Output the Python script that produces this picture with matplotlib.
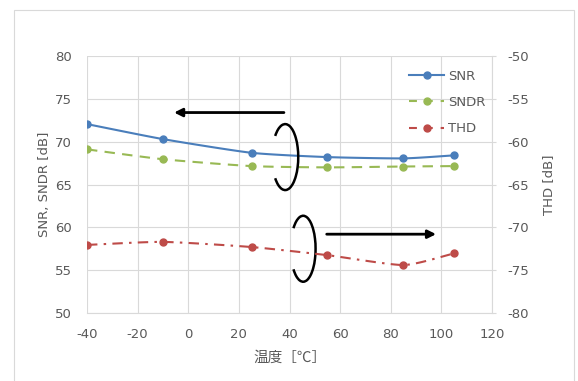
import numpy as np
import matplotlib
matplotlib.use("Agg")
import matplotlib.pyplot as plt
from matplotlib.patches import Arc, Rectangle

plt.rcParams['font.family'] = ['DejaVu Sans', 'Noto Sans CJK JP']
plt.rcParams['axes.unicode_minus'] = False

temps = [-40, -10, 25, 55, 85, 105]
snr = [72.05, 70.3, 68.7, 68.2, 68.05, 68.4]
sndr = [69.1, 67.95, 67.15, 67.0, 67.1, 67.15]
thd = [-72.05, -71.7, -72.3, -73.25, -74.4, -73.05]

x_ticks = [-40, -20, 0, 20, 40, 60, 80, 100, 120]
left_ticks = [50, 55, 60, 65, 70, 75, 80]
right_ticks = [-80, -75, -70, -65, -60, -55, -50]

C_SNR = '#4A7EBB'
C_SNDR = '#98B954'
C_THD = '#BE4B48'
GRID = '#D9D9D9'
TXT = '#595959'
FS = 9.5


def smooth(x, y, n=20):
    """Catmull-Rom curve through the data points (Excel-like smoothed line)."""
    x = np.asarray(x, float)
    y = np.asarray(y, float)
    px = np.concatenate([[2 * x[0] - x[1]], x, [2 * x[-1] - x[-2]]])
    py = np.concatenate([[2 * y[0] - y[1]], y, [2 * y[-1] - y[-2]]])
    xs, ys = [], []
    t = np.linspace(0, 1, n)
    for i in range(1, len(px) - 2):
        p0, p1, p2, p3 = [np.array([px[j], py[j]]) for j in (i - 1, i, i + 1, i + 2)]
        m1 = (p2 - p0) / 2 * 0.6
        m2 = (p3 - p1) / 2 * 0.6
        h00 = 2 * t**3 - 3 * t**2 + 1
        h10 = t**3 - 2 * t**2 + t
        h01 = -2 * t**3 + 3 * t**2
        h11 = t**3 - t**2
        pts = (np.outer(h00, p1) + np.outer(h10, m1) + np.outer(h01, p2) + np.outer(h11, m2))
        xs.extend(pts[:, 0])
        ys.extend(pts[:, 1])
    return np.array(xs), np.array(ys)


fig = plt.figure(figsize=(5.78, 3.81), dpi=100)
fig.patches.append(Rectangle((13.5 / 578, -0.1), (574 - 13.5) / 578, 1 - 10 / 381 + 0.1,
                             transform=fig.transFigure, fill=False, edgecolor='#D9D9D9',
                             linewidth=0.8))
ax = fig.add_axes([87 / 578, 1 - 313 / 381, (492 - 87) / 578, (313 - 56) / 381])
ax2 = ax.twinx()

ax.set_xlim(-40, 120)
ax.set_ylim(50, 80)
ax2.set_ylim(-80, -50)
ax.set_xticks(x_ticks)
ax.set_yticks(left_ticks)
ax2.set_yticks(right_ticks)

ax.grid(True, color=GRID, linewidth=0.8)
ax.set_axisbelow(True)
for a in (ax, ax2):
    for s in a.spines.values():
        s.set_visible(False)
ax.spines['bottom'].set_visible(True)
ax.spines['bottom'].set_color(GRID)
ax2.spines['right'].set_visible(True)
ax2.spines['right'].set_color(GRID)

ax.tick_params(axis='x', length=0, labelsize=FS, labelcolor=TXT, pad=11)
ax.tick_params(axis='y', length=0, labelsize=FS, labelcolor=TXT, pad=11)
ax2.tick_params(axis='y', length=3, color=GRID, labelsize=FS, labelcolor=TXT, pad=8)

# SNR
sx, sy = smooth(temps, snr)
ax.plot(sx, sy, color=C_SNR, lw=1.5, zorder=3)
ax.plot(temps, snr, 'o', color=C_SNR, ms=5, zorder=4)
# SNDR
sx, sy = smooth(temps, sndr)
ax.plot(sx, sy, color=C_SNDR, lw=1.5, dashes=(5, 3.5), zorder=3)
ax.plot(temps, sndr, 'o', color=C_SNDR, ms=5, zorder=4)
# THD
sx, sy = smooth(temps, thd)
ax2.plot(sx, sy, color=C_THD, lw=1.5, dashes=(5, 3, 1.2, 3), zorder=3)
ax2.plot(temps, thd, 'o', color=C_THD, ms=5, zorder=4)

# legend
h1, = ax.plot([], [], color=C_SNR, lw=1.5, marker='o', ms=5)
h2, = ax.plot([], [], color=C_SNDR, lw=1.5, marker='o', ms=5, dashes=(3.8, 3.8))
h3, = ax.plot([], [], color=C_THD, lw=1.5, marker='o', ms=5, dashes=(3.8, 3.8))
leg = ax2.legend([h1, h2, h3], ['SNR', 'SNDR', 'THD'], loc='upper right',
                 bbox_to_anchor=(0.983, 0.946), frameon=False, fontsize=FS,
                 handlelength=2.65, handletextpad=0.25, labelspacing=1.0,
                 borderaxespad=0, borderpad=0)
for t in leg.get_texts():
    t.set_color(TXT)

ax.set_xlabel('温度［℃］', fontsize=10.5, color=TXT, labelpad=7,
              family=['Noto Sans CJK JP', 'DejaVu Sans'])
ax.set_ylabel('SNR, SNDR [dB]', fontsize=FS, color=TXT, labelpad=3)
ax2.set_ylabel('THD [dB]', fontsize=FS, color=TXT, labelpad=9.5)

# annotations: arrows and arcs
ax.annotate('', xy=(-5.6, 73.4), xytext=(37.8, 73.4),
            arrowprops=dict(arrowstyle='-|>', color='black', lw=2, mutation_scale=12,
                            shrinkA=0, shrinkB=0), zorder=5)
ax.annotate('', xy=(97.9, 59.2), xytext=(54.7, 59.2),
            arrowprops=dict(arrowstyle='-|>', color='black', lw=2, mutation_scale=12,
                            shrinkA=0, shrinkB=0), zorder=5)
ax.add_patch(Arc((38.3, 68.2), 10.3, 7.7, theta1=-148, theta2=148, color='black', lw=1.8, zorder=5))
ax.add_patch(Arc((45.4, 57.5), 9.8, 7.7, theta1=-148, theta2=148, color='black', lw=1.8, zorder=5))

fig.savefig('out.png', dpi=100)
